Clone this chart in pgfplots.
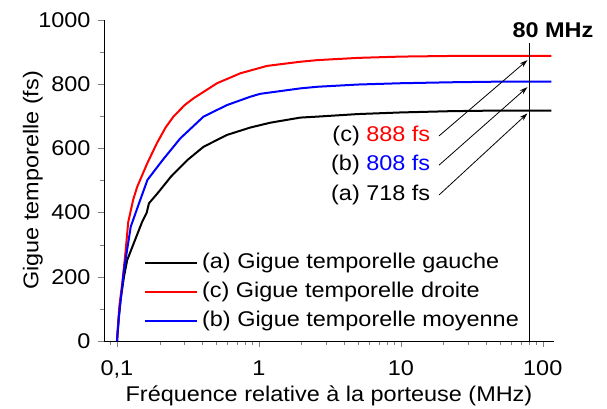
\documentclass[border=0pt]{standalone}
\usepackage{pgfplots}
\pgfplotsset{compat=1.18}
\usepackage{fontspec}
\setmainfont[FakeStretch=1.1]{Liberation Sans}
\usetikzlibrary{arrows.meta}

\begin{document}
\fontsize{10.7}{12.8}\selectfont
\begin{tikzpicture}[x=1bp,y=1bp]
\useasboundingbox (-52,-34) rectangle (251.5,170.5);
\begin{axis}[
    at={(0,0)}, anchor=south west,
    scale only axis, width=225bp, height=160.5bp,
    clip=false,
    xmode=log, xmin=0.081, xmax=120,
    ymin=0, ymax=1000,
    axis x line=bottom, axis y line=left,
    axis line style={-},
    tick align=outside,
    major tick length=3bp, minor tick length=1.75bp,
    xtick={0.1,1,10,100},
    xticklabels={{0,1},1,10,100},
    xticklabel style={yshift=-3bp},
    minor xtick={0.08,0.09,0.2,0.3,0.4,0.5,0.6,0.7,0.8,0.9,2,3,4,5,6,7,8,9,20,30,40,50,60,70,80,90},
    ytick={0,200,400,600,800,1000},
    minor y tick num=1,
    /pgf/number format/assume math mode=true,
    /pgf/number format/1000 sep={},
    xlabel={Fréquence relative à la porteuse (MHz)},
    ylabel={Gigue temporelle (fs)},
    xlabel style={at={(axis description cs:0.5,-0.17)}, anchor=center},
    ylabel style={at={(axis description cs:-0.158,0.5)}, anchor=center},
    legend style={draw=none, fill=none, at={(0.075,0.154)}, anchor=west,
        row sep=4.2bp, nodes={inner ysep=0.5bp}},
    legend cell align=left,
    legend image code/.code={\draw[#1] (0bp,0bp) -- (26bp,0bp);},
]
% (a) gauche
\addplot[black, line width=1bp] coordinates {
    (0.1,0) (0.103,70) (0.106,128) (0.112,200) (0.118,252) (0.1355,320)
    (0.15,370) (0.162,400) (0.168,429) (0.193,460) (0.24,512) (0.314,564)
    (0.407,605) (0.596,642) (0.87,665) (1.2,680) (1.96,696) (2.58,699)
    (5,707) (10,712) (22.5,716) (50,718) (115,718)
};
% (c) droite
\addplot[red, line width=1bp] coordinates {
    (0.1,0) (0.104,110) (0.109,180) (0.115,280) (0.12,370) (0.13,440)
    (0.139,481) (0.164,555) (0.191,616) (0.22,665) (0.25,699) (0.3,735) (0.346,756)
    (0.507,803) (0.74,834) (1.14,857) (1.96,870) (2.58,875) (5,882)
    (10,886) (22.5,888) (50,888) (115,888)
};
% (b) moyenne
\addplot[blue, line width=1bp] coordinates {
    (0.1,0) (0.103,76) (0.112,221) (0.125,356) (0.143,429) (0.164,502)
    (0.21,564) (0.279,631) (0.407,699) (0.596,735) (0.87,761) (1.02,770)
    (1.96,787) (2.58,792) (5,799) (10,803) (22.5,806) (50,808) (115,808)
};
\legend{(a) Gigue temporelle gauche, (c) Gigue temporelle droite, (b) Gigue temporelle moyenne}
% 80 MHz marker
\addplot[black, line width=0.5bp, forget plot] coordinates {(80,0) (80,928)};
\node[font=\bfseries, anchor=west] at (axis cs:54.3,967) {80 MHz};
\node[anchor=east] at (axis cs:18.2,639) {(c) \textcolor{red}{888 fs}};
\node[anchor=east] at (axis cs:18.2,548) {(b) \textcolor{blue}{808 fs}};
\node[anchor=east] at (axis cs:18.2,455) {(a) 718 fs};
\draw[-{Stealth[length=4bp,width=2.5bp]}, line width=0.4bp] (axis cs:18.6,639) -- (axis cs:78,875);
\draw[-{Stealth[length=4bp,width=2.5bp]}, line width=0.4bp] (axis cs:18.6,548) -- (axis cs:78,791);
\draw[-{Stealth[length=4bp,width=2.5bp]}, line width=0.4bp] (axis cs:18.6,455) -- (axis cs:78,709);
\end{axis}
\end{tikzpicture}
\end{document}
